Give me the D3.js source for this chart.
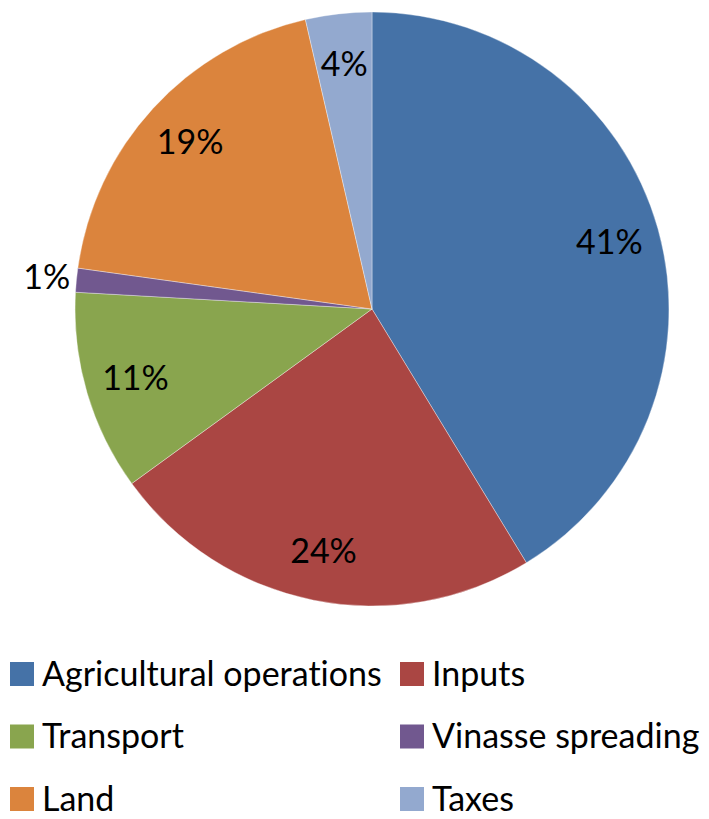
<!DOCTYPE html>
<html lang="en">
<head>
    <meta charset="UTF-8">
    <style>
        body { margin: 0; background: #fff; }
        text { font-family: Lato, "Open Sans", sans-serif; fill: #000; font-variant-ligatures: none; }
        .slice { stroke: #fff; stroke-width: 0.6; stroke-opacity: 0.6; }
    </style>
    <title>Cost breakdown</title>
    <script src="https://cdn.jsdelivr.net/npm/d3@7"></script>
</head>
<body>
<script type="text/javascript">
var categories = ["Agricultural operations", "Inputs", "Transport", "Vinasse spreading", "Land", "Taxes"];
var shares = [41.3, 23.7, 10.9, 1.3, 19.2, 3.6];
var labels = ["41%", "24%", "11%", "1%", "19%", "4%"];
var colors = ["#4572A7", "#AA4643", "#89A54E", "#71588F", "#DB843D", "#93A9CF"];

var width = 709, height = 819;
var cx = 372, cy = 309, radius = 297;

var svg = d3.select("body")
    .append("svg")
    .attr("width", width)
    .attr("height", height);

var data = categories.map(function(c, i) {
    return { name: c, value: shares[i], label: labels[i], color: colors[i] };
});

var pie = d3.pie().sort(null).value(function(d) { return d.value; });
var arc = d3.arc().innerRadius(0).outerRadius(radius);
var labelArc = d3.arc().innerRadius(radius * 0.83).outerRadius(radius * 0.83);
var outerArc = d3.arc().innerRadius(radius * 1.1).outerRadius(radius * 1.1);

var g = svg.append("g").attr("transform", "translate(" + cx + "," + cy + ")");

var arcs = pie(data);

g.selectAll("path.slice").data(arcs)
    .enter()
    .append("path")
    .attr("class", "slice")
    .attr("d", arc)
    .style("fill", function(d) { return d.data.color; });

g.selectAll("text.pct").data(arcs)
    .enter()
    .append("text")
    .attr("class", "pct")
    .attr("transform", function(d) {
        var p = d.data.value < 2 ? outerArc.centroid(d) : labelArc.centroid(d);
        return "translate(" + p + ")";
    })
    .attr("text-anchor", "middle")
    .attr("dy", "0.35em")
    .style("font-size", "34px")
    .text(function(d) { return d.data.label; });

// legend: two columns, three rows
var legend = svg.append("g");
var colX = d3.scalePoint().domain([0, 1]).range([10, 400]);
var rowY = d3.scalePoint().domain([0, 1, 2]).range([674, 799]);

var items = legend.selectAll("g.item").data(data)
    .enter()
    .append("g")
    .attr("class", "item")
    .attr("transform", function(d, i) {
        return "translate(" + colX(i % 2) + "," + rowY(Math.floor(i / 2)) + ")";
    });

items.append("rect")
    .attr("x", 0)
    .attr("y", -12)
    .attr("width", 24)
    .attr("height", 24)
    .style("fill", function(d) { return d.color; });

items.append("text")
    .attr("x", 32)
    .attr("dy", "0.35em")
    .style("font-size", "34px")
    .text(function(d) { return d.name; });
</script>
</body>
</html>
